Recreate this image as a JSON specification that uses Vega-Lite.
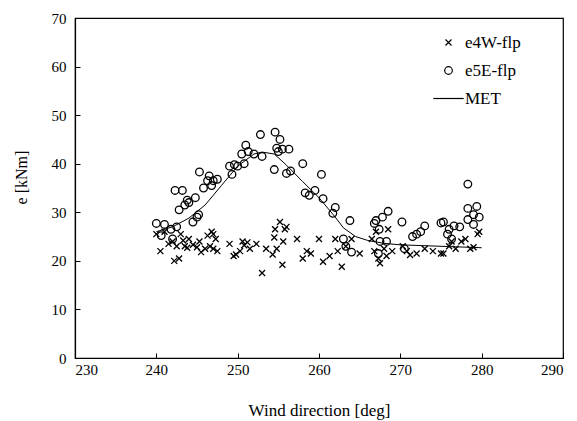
{
  "$schema": "https://vega.github.io/schema/vega-lite/v6.json",
  "width": 488,
  "height": 340,
  "autosize": "none",
  "padding": {"left": 75, "top": 18, "right": 14, "bottom": 63},
  "background": "white",
  "config": {
    "font": "Liberation Serif",
    "view": {"stroke": "black", "strokeWidth": 1.2},
    "legend": {"labelFont": "Liberation Serif", "labelFontSize": 17, "labelColor": "black"},
    "axis": {
      "domainColor": "black", "domainWidth": 1.2, "tickColor": "black", "tickSize": -5, "tickWidth": 1,
      "labelFont": "Liberation Serif", "labelFontSize": 15, "labelColor": "black",
      "titleFont": "Liberation Serif", "titleFontSize": 16, "titleFontWeight": "normal", "titleColor": "black",
      "grid": false
    }
  },
  "datasets": {
    "pts": [
      {"dir": 240.0, "e": 27.7, "series": "e5E-flp"},
      {"dir": 240.6, "e": 25.2, "series": "e5E-flp"},
      {"dir": 241.0, "e": 27.5, "series": "e5E-flp"},
      {"dir": 241.8, "e": 26.5, "series": "e5E-flp"},
      {"dir": 242.0, "e": 24.5, "series": "e5E-flp"},
      {"dir": 242.3, "e": 34.5, "series": "e5E-flp"},
      {"dir": 242.5, "e": 27.0, "series": "e5E-flp"},
      {"dir": 242.8, "e": 30.5, "series": "e5E-flp"},
      {"dir": 243.2, "e": 34.5, "series": "e5E-flp"},
      {"dir": 243.5, "e": 31.5, "series": "e5E-flp"},
      {"dir": 243.8, "e": 32.5, "series": "e5E-flp"},
      {"dir": 244.0, "e": 32.0, "series": "e5E-flp"},
      {"dir": 244.5, "e": 28.0, "series": "e5E-flp"},
      {"dir": 244.8, "e": 33.0, "series": "e5E-flp"},
      {"dir": 245.2, "e": 29.5, "series": "e5E-flp"},
      {"dir": 245.0, "e": 29.0, "series": "e5E-flp"},
      {"dir": 245.3, "e": 38.3, "series": "e5E-flp"},
      {"dir": 245.8, "e": 35.0, "series": "e5E-flp"},
      {"dir": 246.3, "e": 36.5, "series": "e5E-flp"},
      {"dir": 246.5, "e": 37.5, "series": "e5E-flp"},
      {"dir": 246.8, "e": 35.5, "series": "e5E-flp"},
      {"dir": 247.0, "e": 36.5, "series": "e5E-flp"},
      {"dir": 247.5, "e": 36.8, "series": "e5E-flp"},
      {"dir": 249.0, "e": 39.5, "series": "e5E-flp"},
      {"dir": 249.3, "e": 37.8, "series": "e5E-flp"},
      {"dir": 249.6, "e": 39.8, "series": "e5E-flp"},
      {"dir": 250.0, "e": 39.5, "series": "e5E-flp"},
      {"dir": 250.5, "e": 42.0, "series": "e5E-flp"},
      {"dir": 250.8, "e": 40.0, "series": "e5E-flp"},
      {"dir": 251.0, "e": 43.8, "series": "e5E-flp"},
      {"dir": 251.3, "e": 42.5, "series": "e5E-flp"},
      {"dir": 252.0, "e": 42.0, "series": "e5E-flp"},
      {"dir": 252.8, "e": 46.0, "series": "e5E-flp"},
      {"dir": 253.0, "e": 41.5, "series": "e5E-flp"},
      {"dir": 254.5, "e": 38.8, "series": "e5E-flp"},
      {"dir": 254.6, "e": 46.5, "series": "e5E-flp"},
      {"dir": 254.8, "e": 43.2, "series": "e5E-flp"},
      {"dir": 255.0, "e": 42.5, "series": "e5E-flp"},
      {"dir": 255.2, "e": 45.0, "series": "e5E-flp"},
      {"dir": 255.5, "e": 43.0, "series": "e5E-flp"},
      {"dir": 256.0, "e": 38.0, "series": "e5E-flp"},
      {"dir": 256.3, "e": 43.0, "series": "e5E-flp"},
      {"dir": 256.5, "e": 38.5, "series": "e5E-flp"},
      {"dir": 258.0, "e": 40.0, "series": "e5E-flp"},
      {"dir": 258.3, "e": 34.0, "series": "e5E-flp"},
      {"dir": 258.8, "e": 33.5, "series": "e5E-flp"},
      {"dir": 259.5, "e": 34.5, "series": "e5E-flp"},
      {"dir": 260.3, "e": 37.8, "series": "e5E-flp"},
      {"dir": 260.5, "e": 32.8, "series": "e5E-flp"},
      {"dir": 261.7, "e": 29.8, "series": "e5E-flp"},
      {"dir": 262.0, "e": 31.0, "series": "e5E-flp"},
      {"dir": 263.0, "e": 24.5, "series": "e5E-flp"},
      {"dir": 263.3, "e": 23.0, "series": "e5E-flp"},
      {"dir": 263.8, "e": 28.3, "series": "e5E-flp"},
      {"dir": 264.0, "e": 21.8, "series": "e5E-flp"},
      {"dir": 266.8, "e": 27.7, "series": "e5E-flp"},
      {"dir": 267.0, "e": 28.3, "series": "e5E-flp"},
      {"dir": 267.3, "e": 21.5, "series": "e5E-flp"},
      {"dir": 267.4, "e": 26.5, "series": "e5E-flp"},
      {"dir": 267.5, "e": 24.0, "series": "e5E-flp"},
      {"dir": 267.8, "e": 29.0, "series": "e5E-flp"},
      {"dir": 268.3, "e": 24.0, "series": "e5E-flp"},
      {"dir": 268.5, "e": 30.2, "series": "e5E-flp"},
      {"dir": 270.2, "e": 28.0, "series": "e5E-flp"},
      {"dir": 270.5, "e": 22.5, "series": "e5E-flp"},
      {"dir": 271.5, "e": 25.0, "series": "e5E-flp"},
      {"dir": 272.0, "e": 25.5, "series": "e5E-flp"},
      {"dir": 272.5, "e": 26.0, "series": "e5E-flp"},
      {"dir": 273.0, "e": 27.2, "series": "e5E-flp"},
      {"dir": 275.0, "e": 27.8, "series": "e5E-flp"},
      {"dir": 275.3, "e": 28.0, "series": "e5E-flp"},
      {"dir": 275.8, "e": 25.5, "series": "e5E-flp"},
      {"dir": 276.0, "e": 26.5, "series": "e5E-flp"},
      {"dir": 276.3, "e": 24.5, "series": "e5E-flp"},
      {"dir": 276.6, "e": 27.2, "series": "e5E-flp"},
      {"dir": 277.3, "e": 27.0, "series": "e5E-flp"},
      {"dir": 278.3, "e": 35.8, "series": "e5E-flp"},
      {"dir": 278.3, "e": 28.5, "series": "e5E-flp"},
      {"dir": 278.3, "e": 30.8, "series": "e5E-flp"},
      {"dir": 279.0, "e": 27.5, "series": "e5E-flp"},
      {"dir": 279.0, "e": 29.5, "series": "e5E-flp"},
      {"dir": 279.4, "e": 31.2, "series": "e5E-flp"},
      {"dir": 279.7, "e": 29.0, "series": "e5E-flp"},
      {"dir": 240.0, "e": 25.5, "series": "e4W-flp"},
      {"dir": 240.5, "e": 22.0, "series": "e4W-flp"},
      {"dir": 241.0, "e": 26.0, "series": "e4W-flp"},
      {"dir": 241.5, "e": 23.5, "series": "e4W-flp"},
      {"dir": 242.0, "e": 24.0, "series": "e4W-flp"},
      {"dir": 242.2, "e": 20.0, "series": "e4W-flp"},
      {"dir": 242.5, "e": 23.0, "series": "e4W-flp"},
      {"dir": 242.8, "e": 20.5, "series": "e4W-flp"},
      {"dir": 243.0, "e": 25.5, "series": "e4W-flp"},
      {"dir": 243.3, "e": 24.2, "series": "e4W-flp"},
      {"dir": 243.5, "e": 23.0, "series": "e4W-flp"},
      {"dir": 243.8, "e": 22.7, "series": "e4W-flp"},
      {"dir": 244.0, "e": 24.5, "series": "e4W-flp"},
      {"dir": 244.5, "e": 23.3, "series": "e4W-flp"},
      {"dir": 245.0, "e": 22.8, "series": "e4W-flp"},
      {"dir": 245.3, "e": 24.0, "series": "e4W-flp"},
      {"dir": 245.5, "e": 21.8, "series": "e4W-flp"},
      {"dir": 246.0, "e": 22.5, "series": "e4W-flp"},
      {"dir": 246.3, "e": 25.2, "series": "e4W-flp"},
      {"dir": 246.6, "e": 23.0, "series": "e4W-flp"},
      {"dir": 246.8, "e": 26.0, "series": "e4W-flp"},
      {"dir": 247.0, "e": 22.5, "series": "e4W-flp"},
      {"dir": 247.3, "e": 24.5, "series": "e4W-flp"},
      {"dir": 247.5, "e": 22.0, "series": "e4W-flp"},
      {"dir": 247.0, "e": 25.5, "series": "e4W-flp"},
      {"dir": 249.0, "e": 23.5, "series": "e4W-flp"},
      {"dir": 249.5, "e": 21.0, "series": "e4W-flp"},
      {"dir": 249.8, "e": 21.3, "series": "e4W-flp"},
      {"dir": 250.3, "e": 22.0, "series": "e4W-flp"},
      {"dir": 250.6, "e": 24.0, "series": "e4W-flp"},
      {"dir": 250.8, "e": 23.2, "series": "e4W-flp"},
      {"dir": 251.2, "e": 23.8, "series": "e4W-flp"},
      {"dir": 251.5, "e": 22.5, "series": "e4W-flp"},
      {"dir": 252.3, "e": 23.5, "series": "e4W-flp"},
      {"dir": 253.0, "e": 17.5, "series": "e4W-flp"},
      {"dir": 253.5, "e": 22.5, "series": "e4W-flp"},
      {"dir": 254.3, "e": 21.3, "series": "e4W-flp"},
      {"dir": 254.5, "e": 24.8, "series": "e4W-flp"},
      {"dir": 254.6, "e": 26.5, "series": "e4W-flp"},
      {"dir": 254.8, "e": 22.5, "series": "e4W-flp"},
      {"dir": 255.2, "e": 28.0, "series": "e4W-flp"},
      {"dir": 255.5, "e": 19.2, "series": "e4W-flp"},
      {"dir": 255.6, "e": 24.0, "series": "e4W-flp"},
      {"dir": 255.8, "e": 26.5, "series": "e4W-flp"},
      {"dir": 256.0, "e": 27.0, "series": "e4W-flp"},
      {"dir": 257.3, "e": 24.5, "series": "e4W-flp"},
      {"dir": 258.0, "e": 20.5, "series": "e4W-flp"},
      {"dir": 258.5, "e": 22.0, "series": "e4W-flp"},
      {"dir": 259.0, "e": 21.5, "series": "e4W-flp"},
      {"dir": 260.0, "e": 24.5, "series": "e4W-flp"},
      {"dir": 260.5, "e": 19.8, "series": "e4W-flp"},
      {"dir": 261.3, "e": 21.0, "series": "e4W-flp"},
      {"dir": 262.0, "e": 24.5, "series": "e4W-flp"},
      {"dir": 262.3, "e": 22.0, "series": "e4W-flp"},
      {"dir": 262.8, "e": 18.8, "series": "e4W-flp"},
      {"dir": 263.3, "e": 23.0, "series": "e4W-flp"},
      {"dir": 264.0, "e": 24.5, "series": "e4W-flp"},
      {"dir": 265.0, "e": 21.5, "series": "e4W-flp"},
      {"dir": 266.5, "e": 24.5, "series": "e4W-flp"},
      {"dir": 266.8, "e": 22.0, "series": "e4W-flp"},
      {"dir": 267.0, "e": 26.0, "series": "e4W-flp"},
      {"dir": 267.3, "e": 20.5, "series": "e4W-flp"},
      {"dir": 267.5, "e": 19.5, "series": "e4W-flp"},
      {"dir": 268.0, "e": 22.5, "series": "e4W-flp"},
      {"dir": 268.3, "e": 21.0, "series": "e4W-flp"},
      {"dir": 268.5, "e": 26.5, "series": "e4W-flp"},
      {"dir": 269.0, "e": 22.0, "series": "e4W-flp"},
      {"dir": 270.3, "e": 23.0, "series": "e4W-flp"},
      {"dir": 270.8, "e": 22.0, "series": "e4W-flp"},
      {"dir": 271.2, "e": 21.2, "series": "e4W-flp"},
      {"dir": 272.0, "e": 21.5, "series": "e4W-flp"},
      {"dir": 273.0, "e": 22.5, "series": "e4W-flp"},
      {"dir": 274.0, "e": 22.0, "series": "e4W-flp"},
      {"dir": 275.0, "e": 21.5, "series": "e4W-flp"},
      {"dir": 275.3, "e": 21.5, "series": "e4W-flp"},
      {"dir": 276.0, "e": 23.0, "series": "e4W-flp"},
      {"dir": 276.3, "e": 24.0, "series": "e4W-flp"},
      {"dir": 276.8, "e": 22.5, "series": "e4W-flp"},
      {"dir": 277.5, "e": 24.0, "series": "e4W-flp"},
      {"dir": 278.0, "e": 24.5, "series": "e4W-flp"},
      {"dir": 278.6, "e": 22.5, "series": "e4W-flp"},
      {"dir": 279.0, "e": 22.8, "series": "e4W-flp"},
      {"dir": 279.5, "e": 25.5, "series": "e4W-flp"},
      {"dir": 279.7, "e": 26.0, "series": "e4W-flp"}
    ],
    "met": [
      {"dir": 240, "e": 26.0, "series": "MET"},
      {"dir": 242, "e": 27.0, "series": "MET"},
      {"dir": 244, "e": 28.8, "series": "MET"},
      {"dir": 246, "e": 31.5, "series": "MET"},
      {"dir": 248, "e": 35.5, "series": "MET"},
      {"dir": 250, "e": 39.5, "series": "MET"},
      {"dir": 252, "e": 42.0, "series": "MET"},
      {"dir": 253, "e": 42.4, "series": "MET"},
      {"dir": 254.5, "e": 42.0, "series": "MET"},
      {"dir": 256, "e": 39.7, "series": "MET"},
      {"dir": 258, "e": 36.3, "series": "MET"},
      {"dir": 260, "e": 33.0, "series": "MET"},
      {"dir": 262, "e": 29.0, "series": "MET"},
      {"dir": 263, "e": 26.8, "series": "MET"},
      {"dir": 264.5, "e": 25.0, "series": "MET"},
      {"dir": 266, "e": 24.2, "series": "MET"},
      {"dir": 268, "e": 23.6, "series": "MET"},
      {"dir": 270, "e": 23.3, "series": "MET"},
      {"dir": 275, "e": 23.0, "series": "MET"},
      {"dir": 280, "e": 22.7, "series": "MET"}
    ]
  },
  "encoding": {
    "x": {"field": "dir", "type": "quantitative", "scale": {"domain": [230, 290], "nice": false, "zero": false}, "axis": {"values": [230, 240, 250, 260, 270, 280, 290], "title": "Wind direction [deg]", "labelPadding": 9, "titlePadding": 25, "titleFontSize": 17}},
    "y": {"field": "e", "type": "quantitative", "scale": {"domain": [0, 70], "nice": false}, "axis": {"values": [0, 10, 20, 30, 40, 50, 60, 70], "title": "e [kNm]", "labelPadding": 14, "titlePadding": 22, "titleY": 159}}
  },
  "layer": [
    {
      "data": {"name": "met"},
      "mark": {"type": "line", "stroke": "black", "strokeWidth": 1},
      "encoding": {}
    },
    {
      "data": {"name": "pts"},
      "mark": {"type": "point", "filled": false, "strokeWidth": 1.3, "opacity": 1},
      "encoding": {
        "color": {"field": "series", "type": "nominal", "scale": {"domain": ["e4W-flp", "e5E-flp", "MET"], "range": ["black", "black", "black"]}, "title": null,
          "legend": {"orient": "none", "legendX": 365, "legendY": 16, "padding": 0, "title": null, "labelFont": "Liberation Serif", "labelFontSize": 17, "labelColor": "black", "rowPadding": 10, "labelOffset": 8, "symbolStrokeWidth": 1.2, "symbolSize": 100}},
        "shape": {"field": "series", "type": "nominal", "scale": {"domain": ["e4W-flp", "e5E-flp", "MET"], "range": ["M-1,-1L1,1M-1,1L1,-1", "circle", "M-3.4,0L3.4,0"]}, "title": null},
        "size": {"field": "series", "type": "nominal", "scale": {"domain": ["e4W-flp", "e5E-flp", "MET"], "range": [36, 80, 100]}, "legend": null}
      }
    }
  ]
}
